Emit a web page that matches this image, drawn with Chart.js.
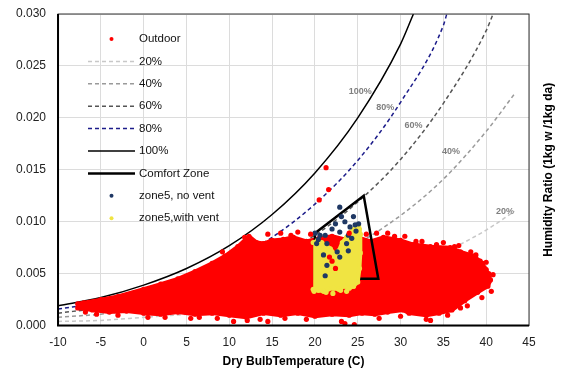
<!DOCTYPE html>
<html>
<head>
<meta charset="utf-8">
<script src="https://cdn.jsdelivr.net/npm/chart.js@4.4.1/dist/chart.umd.min.js"></script>
<style>
  html, body { margin: 0; padding: 0; background: #fff; }
  #wrap { width: 562px; height: 371px; }
</style>
</head>
<body>
<div id="wrap"><canvas id="psychro"></canvas></div>
<script>
// relative humidity curves (dry bulb C -> humidity ratio)
const rh100T = [-10, -5, 0, 5, 10, 15, 20, 25, 30, 31.5];
const rh100W = [0.0019, 0.0027, 0.0039, 0.0055, 0.0077, 0.0107, 0.0147, 0.0200, 0.0271, 0.0300];
const rh80T = [-10, -5, 0, 5, 10, 15, 20, 25, 30, 35, 35.4];
const rh80W = [0.0016, 0.0022, 0.0031, 0.0044, 0.0061, 0.0085, 0.0117, 0.0159, 0.0215, 0.0289, 0.0300];
const rh60T = [-10, -5, 0, 5, 10, 15, 20, 25, 30, 35, 40, 40.8];
const rh60W = [0.0012, 0.0017, 0.0023, 0.0033, 0.0046, 0.0064, 0.0087, 0.0119, 0.0160, 0.0214, 0.0284, 0.0300];
const rh40T = [-10, -5, 0, 5, 10, 15, 20, 25, 30, 35, 40, 43.3];
const rh40W = [0.0008, 0.0011, 0.0016, 0.0022, 0.0031, 0.0042, 0.0058, 0.0079, 0.0106, 0.0141, 0.0187, 0.0223];
const rh20T = [-10, -5, 0, 5, 10, 15, 20, 25, 30, 35, 40, 43.3];
const rh20W = [0.0004, 0.0005, 0.0008, 0.0011, 0.0015, 0.0021, 0.0029, 0.0039, 0.0052, 0.0070, 0.0092, 0.0110];

// comfort zone outline
const comfortT = [20, 25.7, 27.4, 20, 20];
const comfortW = [0.0089, 0.0125, 0.0045, 0.0045, 0.0089];

// outdoor hourly data: dense cloud outline + stray points
const cloudT = [-7.7, -7, -5, -3, 0, 2, 4, 6, 8, 9.5, 11, 12.3, 13.2, 14, 15, 16.3, 17.5, 19, 20.5, 22, 23.5, 25, 26.5, 28, 30, 31.5, 33.5, 35.8, 37, 38.5, 39.3, 40, 40.5, 40.2, 39, 37.5, 36, 34.5, 33, 31, 30.3, 28.5, 27, 25.5, 24, 22, 20, 18, 16, 14, 12, 10, 8, 6, 4, 2, 0, -2, -4, -6, -7.7];
const cloudW = [0.0021, 0.0022, 0.0025, 0.0028, 0.0035, 0.0040, 0.0045, 0.0052, 0.0060, 0.0067, 0.0076, 0.0086, 0.0080, 0.0079, 0.0082, 0.0083, 0.0085, 0.0081, 0.0084, 0.0086, 0.0083, 0.0085, 0.0081, 0.0085, 0.0082, 0.0078, 0.0076, 0.0075, 0.0071, 0.0067, 0.0062, 0.0054, 0.0044, 0.0038, 0.0032, 0.0024, 0.0015, 0.0012, 0.0010, 0.0012, 0.0015, 0.0013, 0.0011, 0.0012, 0.0010, 0.0011, 0.0009, 0.0012, 0.0010, 0.0012, 0.0008, 0.0010, 0.0012, 0.0011, 0.0013, 0.0011, 0.0012, 0.0014, 0.0013, 0.0015, 0.0017];
const strayT = [21.3, 21.6, 20.5, 27.2, 29.3, 34.2, 36.3, 39.6, 40.3, 23.5, 24.6, 23.1, 12.1, 13.6, 8.6, 2.5, -6.8, 17.2, 31.8, 38.2, 22.0, 21.7, 22.4, 10.5, 5.5, 33.5, 37.8,
    14.5, 16.0, 18.0, 19.5, 24.0, 26.0, 28.5, 30.5, 32.5, 35.0, 36.8, 38.8, 40.0, 40.8, 40.6, 39.5, 37.0, 35.5, 33.0, 30.0, 27.5, 19.0, 16.5, 14.5, 6.5, 0.5, -3.0, -5.5, 11.8, 9.2, 3.5];
const strayW = [0.0152, 0.0131, 0.0121, 0.0089, 0.0086, 0.0078, 0.0076, 0.0060, 0.0050, 0.0002, 0.0001, 0.0004, 0.0005, 0.0006, 0.0007, 0.0008, 0.0013, 0.0087, 0.0081, 0.0071, 0.0062, 0.0066, 0.0055, 0.0004, 0.0007, 0.0005, 0.0019,
    0.0088, 0.0089, 0.0090, 0.0088, 0.0089, 0.0088, 0.0089, 0.0086, 0.0081, 0.0080, 0.0077, 0.0068, 0.0061, 0.0049, 0.0033, 0.0027, 0.0017, 0.0010, 0.0006, 0.0009, 0.0007, 0.0006, 0.0007, 0.0004, 0.0008, 0.0008, 0.0010, 0.0011, 0.0085, 0.0071, 0.0042];

// zone5 simulated indoor states
const noVentT = [22.9, 23.1, 23.5, 24.5, 24.7, 24.1, 22.4, 22.0, 22.9, 23.9, 25.1, 20.0, 20.6, 21.2, 20.2, 21.4, 23.7, 24.3, 21.0, 22.9, 21.4, 21.2, 23.9, 22.6, 20.4, 24.8];
const noVentW = [0.0114, 0.0105, 0.0100, 0.0105, 0.0097, 0.0095, 0.0098, 0.0093, 0.0090, 0.0087, 0.0098, 0.0089, 0.0087, 0.0087, 0.0079, 0.0079, 0.0079, 0.0084, 0.0068, 0.0066, 0.0058, 0.0048, 0.0072, 0.0071, 0.0083, 0.0091];
const ventAreaT = [19.8, 20.3, 20.8, 21.3, 21.8, 22.3, 22.8, 23.2, 23.7, 24.2, 24.7, 25.1, 25.3, 25.3, 25.2, 25.0, 24.5, 24.0, 23.4, 22.8, 22.2, 21.5, 21.0, 20.4, 19.8];
const ventAreaW = [0.0080, 0.0082, 0.0080, 0.0077, 0.0074, 0.0069, 0.0072, 0.0080, 0.0085, 0.0090, 0.0094, 0.0096, 0.0088, 0.0070, 0.0055, 0.0042, 0.0038, 0.0036, 0.0038, 0.0035, 0.0036, 0.0035, 0.0033, 0.0034, 0.0035];
const ventT = [19.9, 21.3, 23.7, 24.5, 20.2, 25.2, 22.1, 23.0];
const ventW = [0.0033, 0.0032, 0.0033, 0.0038, 0.0071, 0.0093, 0.0031, 0.0034];

// curve labels on the chart
const curveLabels = ['100%', '80%', '60%', '40%', '20%'];
const curveLabelT = [25.3, 28.2, 31.5, 35.9, 42.2];
const curveLabelW = [0.0225, 0.0210, 0.0193, 0.0168, 0.0110];

const legendOrder = ['Outdoor', '20%', '40%', '60%', '80%', '100%', 'Comfort Zone', 'zone5, no vent', 'zone5,with vent'];

const FONT = "'Liberation Sans', Arial, sans-serif";

function pts(xs, ys) {
    return xs.map((v, i) => ({x: v, y: ys[i]}));
}

function curve(label, xs, ys, color, dash, width) {
    return {
        label: label,
        data: pts(xs, ys),
        borderColor: color,
        backgroundColor: color,
        borderWidth: width,
        borderDash: dash,
        pointRadius: 0,
        cubicInterpolationMode: 'monotone',
        fill: false,
        order: 5
    };
}

function dots(label, xs, ys, color, order) {
    return {
        label: label,
        data: pts(xs, ys),
        showLine: false,
        pointRadius: 2.6,
        pointBorderWidth: 0,
        backgroundColor: color,
        borderColor: color,
        order: order
    };
}

const overlay = {
    id: 'overlay',
    afterDraw(chart) {
        const ctx = chart.ctx;
        const a = chart.chartArea;
        const xs = chart.scales.x, ys = chart.scales.y;
        ctx.save();

        // frame
        ctx.strokeStyle = '#333';
        ctx.lineWidth = 1;
        ctx.strokeRect(a.left, a.top, a.right - a.left, a.bottom - a.top);
        ctx.strokeStyle = '#000';
        ctx.lineWidth = 2;
        ctx.beginPath();
        ctx.moveTo(a.left, a.top);
        ctx.lineTo(a.left, a.bottom);
        ctx.lineTo(a.right, a.bottom);
        ctx.stroke();

        // labels on the curves
        ctx.font = 'bold 9px ' + FONT;
        ctx.fillStyle = '#808080';
        ctx.textAlign = 'center';
        ctx.textBaseline = 'middle';
        curveLabels.forEach((t, i) => {
            ctx.fillText(t, xs.getPixelForValue(curveLabelT[i]), ys.getPixelForValue(curveLabelW[i]));
        });

        // legend inside the plot
        ctx.font = '11.5px ' + FONT;
        ctx.textAlign = 'left';
        const lx0 = 88, lx1 = 135;
        legendOrder.forEach((name, i) => {
            const ds = chart.data.datasets.find(d => d.label === name);
            const yy = 39 + i * 22.4;
            if (ds.showLine === false) {
                ctx.fillStyle = ds.backgroundColor;
                ctx.beginPath();
                ctx.arc((lx0 + lx1) / 2, yy, 2, 0, Math.PI * 2);
                ctx.fill();
            } else {
                ctx.strokeStyle = ds.borderColor;
                ctx.lineWidth = ds.borderWidth;
                ctx.setLineDash(ds.borderDash || []);
                ctx.beginPath();
                ctx.moveTo(lx0, yy);
                ctx.lineTo(lx1, yy);
                ctx.stroke();
                ctx.setLineDash([]);
            }
            ctx.fillStyle = '#111';
            ctx.fillText(name, 139, yy);
        });

        // axis titles
        ctx.font = 'bold 12px ' + FONT;
        ctx.fillStyle = '#000';
        ctx.textAlign = 'center';
        ctx.fillText('Dry BulbTemperature (C)', (a.left + a.right) / 2, 362);
        ctx.translate(549, (a.top + a.bottom) / 2);
        ctx.rotate(-Math.PI / 2);
        ctx.fillText('Humidity Ratio (1kg w /1kg da)', 0, 0);
        ctx.restore();
    }
};

new Chart(document.getElementById('psychro'), {
    type: 'line',
    data: {
        datasets: [
            dots('Outdoor', strayT, strayW, '#ff0000', 0),
            dots('zone5, no vent', noVentT, noVentW, '#1f3864', 1),
            dots('zone5,with vent', ventT, ventW, '#f0e442', 2),
            {
                label: 'zone5 vent area',
                data: pts(ventAreaT, ventAreaW),
                borderColor: '#f0e442',
                backgroundColor: '#f0e442',
                borderWidth: 4,
                borderJoinStyle: 'round',
                pointRadius: 2.6,
                pointBorderWidth: 0,
                pointBackgroundColor: '#f0e442',
                fill: 'shape',
                order: 2
            },
            {
                label: 'Comfort Zone',
                data: pts(comfortT, comfortW),
                borderColor: '#000',
                borderWidth: 2.5,
                pointRadius: 0,
                fill: false,
                tension: 0,
                order: 3
            },
            {
                label: 'Outdoor cloud',
                data: pts(cloudT, cloudW),
                borderColor: '#ff0000',
                backgroundColor: '#ff0000',
                borderWidth: 4,
                borderJoinStyle: 'round',
                pointRadius: 2.6,
                pointBorderWidth: 0,
                pointBackgroundColor: '#ff0000',
                fill: 'shape',
                order: 4
            },
            curve('20%', rh20T, rh20W, '#c8c8c8', [4, 3], 1.5),
            curve('40%', rh40T, rh40W, '#9a9a9a', [4, 3], 1.5),
            curve('60%', rh60T, rh60W, '#555555', [4, 3], 1.5),
            curve('80%', rh80T, rh80W, '#1c1c8a', [4, 3], 1.5),
            curve('100%', rh100T, rh100W, '#000000', [], 1.5)
        ]
    },
    options: {
        responsive: true,
        maintainAspectRatio: false,
        animation: false,
        layout: {
            autoPadding: false,
            padding: {left: 4, right: 33, top: 14, bottom: 11}
        },
        plugins: {
            legend: {display: false},
            tooltip: {enabled: false}
        },
        scales: {
            x: {
                type: 'linear',
                min: -10,
                max: 45,
                ticks: {
                    stepSize: 5,
                    color: '#222',
                    padding: 10,
                    font: {family: FONT, size: 12}
                },
                grid: {color: '#dcdcdc', drawTicks: false},
                border: {display: false}
            },
            y: {
                min: 0,
                max: 0.03,
                afterFit: s => {
                    s.paddingTop = 0;
                    s.paddingBottom = 0;
                },
                ticks: {
                    stepSize: 0.005,
                    color: '#222',
                    padding: 12,
                    font: {family: FONT, size: 12},
                    callback: v => v.toFixed(3)
                },
                grid: {color: '#dcdcdc', drawTicks: false},
                border: {display: false}
            }
        }
    },
    plugins: [overlay]
});
</script>
</body>
</html>
